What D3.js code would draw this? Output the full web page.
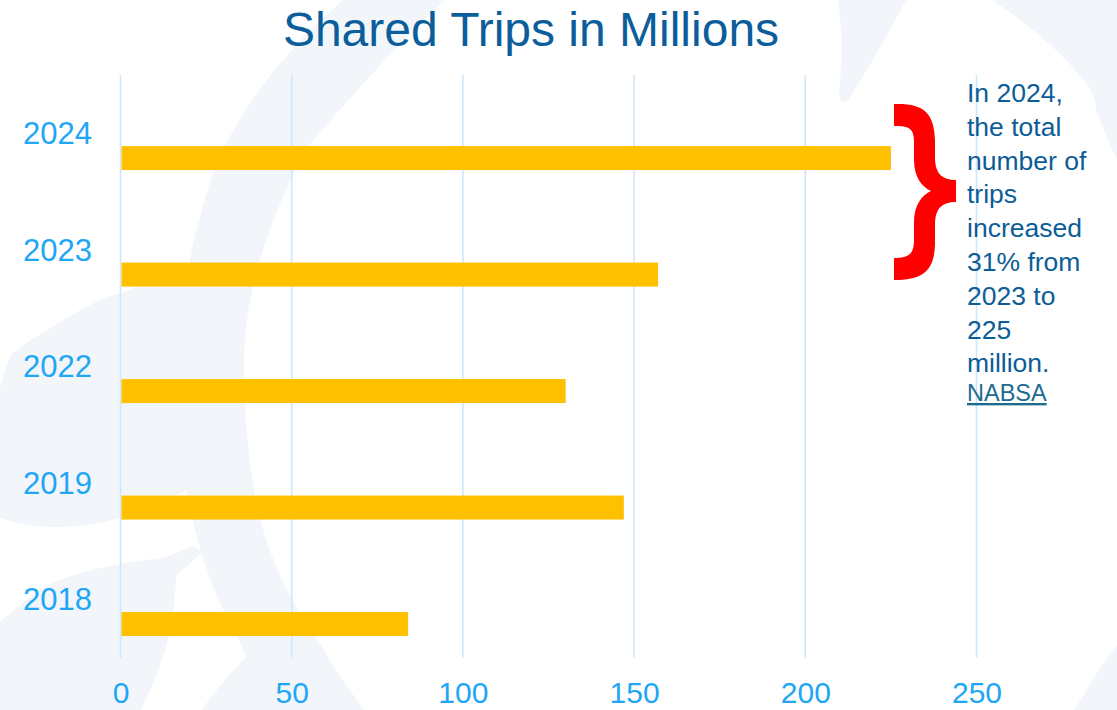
<!DOCTYPE html>
<html>
<head>
<meta charset="utf-8">
<script src="https://cdn.jsdelivr.net/npm/d3@7"></script>
<style>
  html, body { margin: 0; padding: 0; background: #ffffff; }
  svg { display: block; font-family: "Liberation Sans", Arial, Helvetica, sans-serif; }
</style>
</head>
<body>
<svg id="chart" width="1117" height="710"></svg>
<script>
// Shared micromobility trips per year, millions
const years = ["2024", "2023", "2022", "2019", "2018"];
const trips = [225, 157, 130, 147, 84];
const xTicks = [0, 50, 100, 150, 200, 250];

const titleText = "Shared Trips in Millions";
const noteLines = ["In 2024,", "the total", "number of", "trips", "increased",
                   "31% from", "2023 to", "225", "million."];
const sourceText = "NABSA";

const W = 1117, H = 710;
const svg = d3.select("#chart");

// soft watermark shapes behind the chart
const wm = svg.append("g").attr("fill", "#f2f6fa");
[
  "M343,0 L445,0 C400,40 340,110 311,143 C290,175 262,240 250,300 C244,330 242,380 246,422 C250,470 255,500 261,522 C270,555 280,575 286,588 C300,615 315,635 321,645 C335,670 350,690 364,710 L202,710 C215,690 232,672 246,657 C235,630 228,620 221,605 C212,585 205,565 200,548 C196,535 190,510 186,485 C184,420 186,330 189,267 C195,230 200,217 200,217 C210,180 220,150 232,133 C250,100 270,75 286,57 C305,35 325,15 343,0 Z",
  "M0,388 C5,370 8,360 11,355 C25,342 35,337 43,333 C70,315 95,300 121,293 C140,285 160,280 192,275 L190,487 C170,500 150,512 121,518 C100,524 75,527 54,527 C35,527 15,523 0,518 Z",
  "M0,622 C20,605 35,592 54,582 C90,568 130,561 164,558 L193,546 L203,552 L176,576 C175,610 170,640 160,665 C155,680 148,695 141,710 L0,710 Z",
  "M838,0 L906,0 C890,30 868,70 848,100 C843,104 838,100 839,92 C843,60 842,25 838,0 Z",
  "M992,0 C1030,25 1065,55 1089,87 C1094,96 1096,104 1096,110 C1102,125 1108,140 1117,160 L1117,0 Z",
  "M1117,645 C1100,665 1088,690 1074,710 L1117,710 Z"
].forEach(d => wm.append("path").attr("d", d));

// scales
const x = d3.scaleLinear().domain([0, 250]).range([120.5, 976.5]);
const y = d3.scaleBand().domain(years).range([75, 657.5]).padding(0);
const step = y.step();

// vertical gridlines
svg.append("g")
  .selectAll("line")
  .data(xTicks)
  .join("line")
  .attr("x1", d => x(d)).attr("x2", d => x(d))
  .attr("y1", 75).attr("y2", 657.5)
  .attr("stroke", "#cde8fb")
  .attr("stroke-width", 1.6);

// bars
svg.append("g")
  .selectAll("rect")
  .data(years.map((yr, i) => ({ yr, v: trips[i] })))
  .join("rect")
  .attr("x", x(0) + 1)
  .attr("y", d => y(d.yr) + step * 0.61)
  .attr("height", step * 0.206)
  .attr("width", d => x(d.v) - x(0) - 1)
  .attr("fill", "#ffc000");

// category labels
svg.append("g")
  .selectAll("text")
  .data(years)
  .join("text")
  .attr("x", 92)
  .attr("y", d => y(d) + step / 2 + 11)
  .attr("text-anchor", "end")
  .attr("font-size", 31)
  .attr("fill", "#21a6f6")
  .text(d => d);

// value axis along the bottom
const xAxis = svg.append("g")
  .attr("transform", "translate(0,682)")
  .call(d3.axisBottom(x).tickValues(xTicks).tickSize(0).tickPadding(0).tickFormat(d3.format("d")));
xAxis.select(".domain").remove();
xAxis.selectAll("text")
  .attr("dy", 0)
  .attr("y", 21)
  .attr("font-size", 30)
  .attr("font-family", "Liberation Sans, Arial, sans-serif")
  .attr("fill", "#21a6f6");

// title
svg.append("text")
  .attr("x", 531)
  .attr("y", 46)
  .attr("text-anchor", "middle")
  .attr("font-size", 48)
  .attr("fill", "#0b5e9b")
  .text(titleText);

// red curly brace beside the latest bar
svg.append("path")
  .attr("d", "M894,104 C924,103 934,113 935,140 L935,160 C936,174 942,180 956,180 L956,202 C942,202 936,208 935,222 L935,245 C934,270 924,280 894,280 L894,258 C909,258 914,254 914,240 L914,222 C914,205 922,195 931,191 C922,187 914,177 914,160 L914,142 C914,128 909,126 894,126 Z")
  .attr("fill", "#ff0000");

// annotation text
const note = svg.append("g").attr("font-size", 26.5).attr("fill", "#0c5d97");
note.selectAll("text")
  .data(noteLines)
  .join("text")
  .attr("x", 967)
  .attr("y", (d, i) => 102 + i * 33.8)
  .text(d => d);

svg.append("text")
  .attr("x", 967)
  .attr("y", 401)
  .attr("font-size", 23.5)
  .attr("fill", "#1b6c8e")
  .attr("text-decoration", "underline")
  .text(sourceText);
</script>
</body>
</html>
